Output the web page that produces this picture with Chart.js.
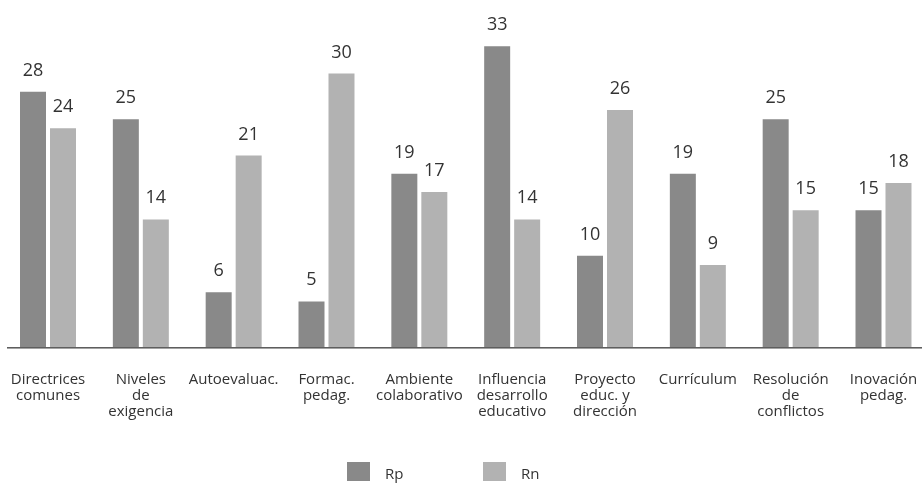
<!DOCTYPE html>
<html>
<head>
<meta charset="utf-8">
<script src="https://cdn.jsdelivr.net/npm/chart.js@4/dist/chart.umd.min.js"></script>
<style>
  html, body { margin: 0; padding: 0; background: #ffffff; overflow: hidden; }
  canvas { display: block; }
</style>
</head>
<body>
<canvas id="chart" width="924" height="483"></canvas>
<script>
// Categories (multi-line labels) and values per series
const categories = [
  ["Directrices", "comunes"],
  ["Niveles", "de", "exigencia"],
  ["Autoevaluac."],
  ["Formac.", "pedag."],
  ["Ambiente", "colaborativo"],
  ["Influencia", "desarrollo", "educativo"],
  ["Proyecto", "educ. y", "dirección"],
  ["Currículum"],
  ["Resolución", "de", "conflictos"],
  ["Inovación", "pedag."]
];
const rpValues = [28, 25, 6, 5, 19, 33, 10, 19, 25, 15];
const rnValues = [24, 14, 21, 30, 17, 14, 26, 9, 15, 18];
const seriesNames = ["Rp", "Rn"];
const seriesColors = ["#898989", "#b2b2b2"];

const FONT = "'Open Sans', 'Noto Sans', sans-serif";
const TEXT = "#333333";

// Value labels above every bar
const valueLabels = {
  id: "valueLabels",
  afterDatasetsDraw(chart) {
    const ctx = chart.ctx;
    ctx.save();
    ctx.font = "18px " + FONT;
    ctx.fillStyle = TEXT;
    ctx.textAlign = "center";
    ctx.textBaseline = "alphabetic";
    chart.data.datasets.forEach((ds, di) => {
      const meta = chart.getDatasetMeta(di);
      meta.data.forEach((bar, i) => {
        ctx.fillText(String(ds.data[i]), bar.x, bar.y - 16);
      });
    });
    ctx.restore();
  }
};

// Baseline rule along the bottom of the bars
const baseRule = {
  id: "baseRule",
  afterDatasetsDraw(chart) {
    const ctx = chart.ctx;
    const y = chart.scales.y.getPixelForValue(0);
    ctx.save();
    ctx.fillStyle = "#5e5e5e";
    ctx.fillRect(7, Math.round(y), 915, 1);
    ctx.fillStyle = "#a3a3a3";
    ctx.fillRect(7, Math.round(y) + 1, 915, 1);
    ctx.restore();
  }
};

// Legend centred under the chart
const bottomLegend = {
  id: "bottomLegend",
  afterDraw(chart) {
    const ctx = chart.ctx;
    const boxX = [347, 483];
    ctx.save();
    ctx.font = "15px " + FONT;
    ctx.textBaseline = "alphabetic";
    ctx.textAlign = "left";
    chart.data.datasets.forEach((ds, di) => {
      ctx.fillStyle = ds.backgroundColor;
      ctx.fillRect(boxX[di], 462, 23, 19);
      ctx.fillStyle = TEXT;
      ctx.fillText(ds.label, boxX[di] + 38, 479);
    });
    ctx.restore();
  }
};

new Chart(document.getElementById("chart"), {
  type: "bar",
  data: {
    labels: categories,
    datasets: [
      { label: seriesNames[0], data: rpValues, backgroundColor: seriesColors[0], clip: false },
      { label: seriesNames[1], data: rnValues, backgroundColor: seriesColors[1], clip: false }
    ]
  },
  options: {
    responsive: false,
    animation: false,
    devicePixelRatio: 1,
    categoryPercentage: 0.646,
    barPercentage: 0.867,
    layout: { padding: { top: 28, bottom: 38, left: 48, right: 40.5 } },
    plugins: {
      legend: { display: false },
      tooltip: { enabled: false }
    },
    scales: {
      x: {
        offset: false,
        grid: { display: false, drawTicks: false },
        border: { display: false },
        afterFit(scale) {
          // outer labels already fit inside the layout padding
          scale.paddingLeft = 0;
          scale.paddingRight = 0;
        },
        ticks: {
          autoSkip: false,
          maxRotation: 0,
          minRotation: 0,
          padding: 25,
          color: TEXT,
          font: { family: FONT, size: 15, lineHeight: 16 / 15 }
        }
      },
      y: {
        display: false,
        min: 0,
        max: 35
      }
    }
  },
  plugins: [valueLabels, baseRule, bottomLegend]
});
</script>
</body>
</html>
